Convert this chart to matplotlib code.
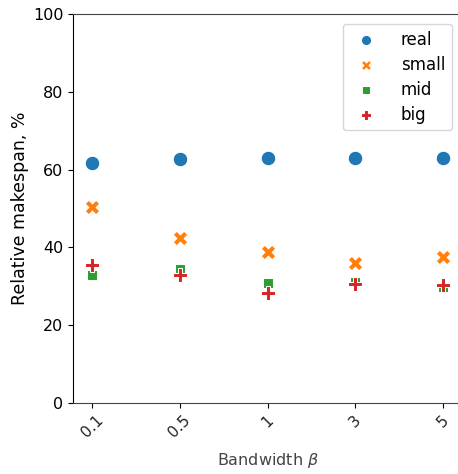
import matplotlib
matplotlib.use("Agg")
import matplotlib.pyplot as plt

categories = ["0.1", "0.5", "1", "3", "5"]
series_names = ["real", "small", "mid", "big"]
real = [61.6, 62.8, 62.95, 63.1, 63.05]
small = [50.4, 42.3, 38.8, 36.1, 37.5]
mid = [32.9, 34.5, 30.8, 31.0, 29.8]
big = [35.6, 32.8, 28.4, 30.7, 30.4]

values = [real, small, mid, big]
colors = ["#1f77b4", "#ff7f0e", "#2ca02c", "#d62728"]
markers = ["o", "X", (4, 0, 45), "P"]

fig = plt.figure(figsize=(4.58, 4.74), dpi=100)
ax = fig.add_axes([73/458, 71/474, 389/458, 389/474])

xpos = list(range(len(categories)))
for name, vals, c, m in zip(series_names, values, colors, markers):
    ax.scatter(xpos, vals, s=110, marker=m, color=c, edgecolors="white",
               linewidths=0.75, label=name, zorder=3)

ax.set_xlim(-0.217, 4.217)
ax.set_ylim(0, 100)
ax.set_yticks([0, 20, 40, 60, 80, 100])
ax.set_xticks(xpos)
ax.set_xticklabels(categories, rotation=45, fontsize=11, color="#222222")
ax.tick_params(axis="y", labelsize=11.5)
ax.set_ylabel("Relative makespan, %", fontsize=12.5, labelpad=3)
ax.set_xlabel(r"Bandwidth $\beta$", fontsize=11.5, color="#444444", labelpad=8)

ax.spines["left"].set_color("black")
ax.spines["top"].set_color("#444444")
ax.spines["bottom"].set_color("#444444")

leg = ax.legend(loc="upper right", bbox_to_anchor=(1.0, 1.0), borderaxespad=0.6,
                fontsize=12, frameon=True, borderpad=0.4, labelspacing=0.42,
                handletextpad=1.1, markerscale=0.7)

fig.savefig("out.png", dpi=100)
